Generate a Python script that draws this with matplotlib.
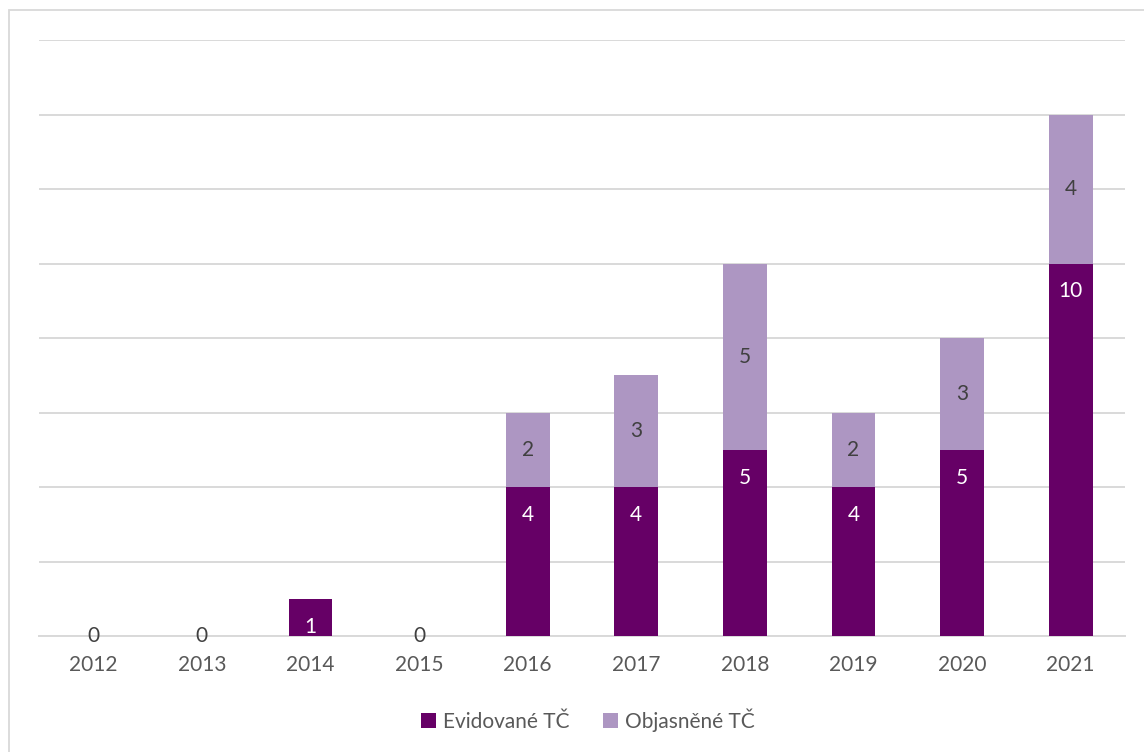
import matplotlib
matplotlib.use("Agg")
from matplotlib import pyplot as plt
from matplotlib.patches import Rectangle

# data
roky = ["2012", "2013", "2014", "2015", "2016", "2017", "2018", "2019", "2020", "2021"]
evidovane = [0, 0, 1, 0, 4, 4, 5, 4, 5, 10]
objasnene = [0, 0, 0, 0, 2, 3, 5, 2, 3, 4]

c_dark = "#660066"
c_light = "#ad96c2"
c_text = "#595959"

plt.rcParams["font.family"] = ["Lato", "DejaVu Sans"]

W, H = 1144, 752
fig = plt.figure(figsize=(W / 100, H / 100), dpi=100)

# ramecek grafu
fig.patches.append(Rectangle((9 / W, -0.1), 1.2, 1.1 - 10 / H, transform=fig.transFigure,
                             fill=False, edgecolor="#d9d9d9", linewidth=1.3))

ax = fig.add_axes([39 / W, 1 - 636 / H, (1125 - 39) / W, (636 - 40) / H])

x = list(range(len(roky)))
bar_width = 0.405
b1 = ax.bar(x, evidovane, width=bar_width, color=c_dark, label="Evidované TČ", zorder=3)
b2 = ax.bar(x, objasnene, width=bar_width, bottom=evidovane, color=c_light,
            label="Objasněné TČ", zorder=3)

ax.set_xlim(-0.5, len(roky) - 0.5)
ax.set_ylim(0, 16)
ax.set_yticks(range(0, 17, 2))
ax.set_yticklabels([])
ax.tick_params(axis="y", length=0)
ax.tick_params(axis="x", length=0, labelsize=15, labelcolor=c_text, pad=14)
ax.set_xticks(x)
ax.set_xticklabels(roky)
ax.grid(axis="y", color="#d9d9d9", linewidth=1.4, zorder=0)
for s in ["top", "right", "left"]:
    ax.spines[s].set_visible(False)
ax.spines["bottom"].set_color("#d9d9d9")
ax.spines["bottom"].set_linewidth(1.4)

# popisky hodnot
for i in x:
    e, o = evidovane[i], objasnene[i]
    if e == 0 and o == 0:
        ax.text(i, 0, "0", ha="center", va="center", fontsize=15, color="#404040", zorder=4)
        continue
    if e > 0:
        ax.annotate(str(e), (i, e), xytext=(0, -20), textcoords="offset points",
                    ha="center", va="center", fontsize=15, color="white", zorder=4)
    if o > 0:
        ax.text(i, e + o / 2, str(o), ha="center", va="center", fontsize=15,
                color="#404040", zorder=4)

leg = fig.legend(handles=[b1, b2], loc="center", bbox_to_anchor=(588 / W, 1 - 720 / H),
                 ncol=2, frameon=False, fontsize=15, handlelength=0.7, handleheight=0.7,
                 handletextpad=0.35, columnspacing=1.6, labelcolor=c_text)

fig.savefig("out.png", dpi=100)
